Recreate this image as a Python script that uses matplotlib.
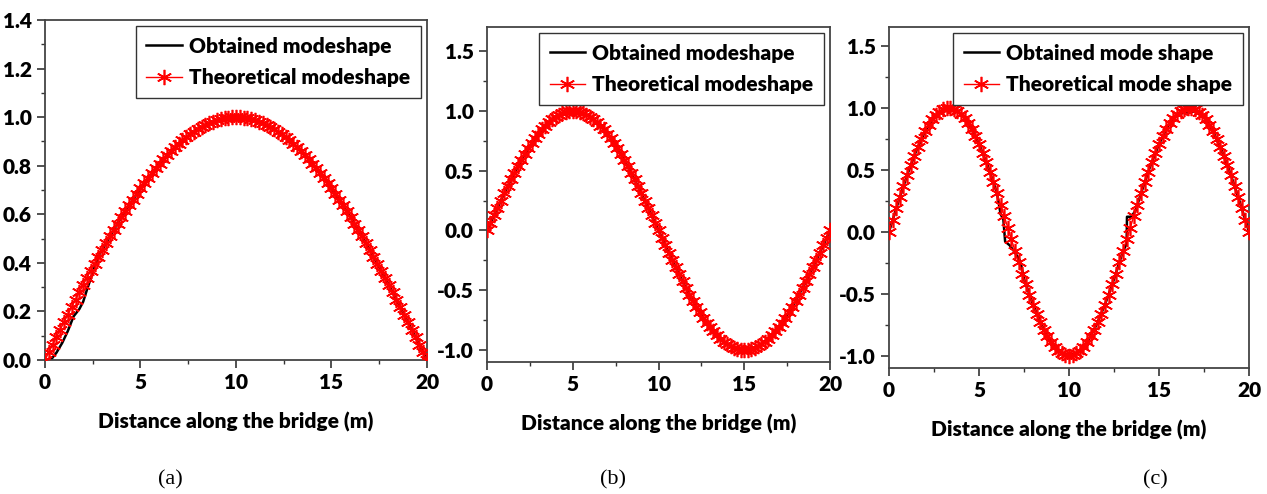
import matplotlib
matplotlib.use('Agg')
import matplotlib.pyplot as plt
from matplotlib.ticker import MultipleLocator, FormatStrFormatter

plt.rcParams['font.family'] = ['Lato', 'DejaVu Sans']
plt.rcParams['font.weight'] = 'bold'

# posicoes ao longo da ponte (m)
x_pts = [0.0, 0.2, 0.4, 0.6, 0.8, 1.0, 1.2, 1.4, 1.6, 1.8, 2.0, 2.2, 2.4, 2.6, 2.8, 3.0, 3.2, 3.4, 3.6, 3.8,
         4.0, 4.2, 4.4, 4.6, 4.8, 5.0, 5.2, 5.4, 5.6, 5.8, 6.0, 6.2, 6.4, 6.6, 6.8, 7.0, 7.2, 7.4, 7.6, 7.8,
         8.0, 8.2, 8.4, 8.6, 8.8, 9.0, 9.2, 9.4, 9.6, 9.8, 10.0, 10.2, 10.4, 10.6, 10.8, 11.0, 11.2, 11.4, 11.6, 11.8,
         12.0, 12.2, 12.4, 12.6, 12.8, 13.0, 13.2, 13.4, 13.6, 13.8, 14.0, 14.2, 14.4, 14.6, 14.8, 15.0, 15.2, 15.4, 15.6, 15.8,
         16.0, 16.2, 16.4, 16.6, 16.8, 17.0, 17.2, 17.4, 17.6, 17.8, 18.0, 18.2, 18.4, 18.6, 18.8, 19.0, 19.2, 19.4, 19.6, 19.8, 20.0]

theo_a = [0, .031, .063, .094, .125, .156, .187, .218, .249, .279, .309, .339, .368, .397, .426, .454, .482, .509, .536, .562,
          .588, .613, .637, .661, .685, .707, .729, .750, .771, .790, .809, .827, .844, .861, .876, .891, .905, .918, .930, .941,
          .951, .960, .969, .976, .982, .988, .992, .996, .998, .999, 1.000,
          .999, .998, .996, .992, .988, .982, .976, .969, .960, .951, .941, .930, .918, .905, .891, .876, .861, .844, .827, .809,
          .790, .771, .750, .729, .707, .685, .661, .637, .613, .588, .562, .536, .509, .482, .454, .426, .397, .368, .339, .309,
          .279, .249, .218, .187, .156, .125, .094, .063, .031, 0]

theo_b = [0, .063, .125, .187, .249, .309, .368, .426, .482, .536, .588, .637, .685, .729, .771, .809, .844, .876, .905, .930,
          .951, .969, .982, .992, .998, 1.000,
          .998, .992, .982, .969, .951, .930, .905, .876, .844, .809, .771, .729, .685, .637, .588, .536, .482, .426, .368, .309,
          .249, .187, .125, .063, 0,
          -.063, -.125, -.187, -.249, -.309, -.368, -.426, -.482, -.536, -.588, -.637, -.685, -.729, -.771, -.809, -.844, -.876,
          -.905, -.930, -.951, -.969, -.982, -.992, -.998, -1.000,
          -.998, -.992, -.982, -.969, -.951, -.930, -.905, -.876, -.844, -.809, -.771, -.729, -.685, -.637, -.588, -.536, -.482,
          -.426, -.368, -.309, -.249, -.187, -.125, -.063, 0]

theo_c = [0, .094, .187, .279, .368, .454, .536, .613, .685, .750, .809, .861, .905, .941, .969, .988, .998, .999, .992, .976,
          .951, .918, .876, .827, .771, .707, .637, .562, .482, .397, .309, .218, .125, .031, -.063, -.156, -.249, -.339, -.426,
          -.509, -.588, -.661, -.729, -.790, -.844, -.891, -.930, -.960, -.982, -.996, -1.000,
          -.996, -.982, -.960, -.930, -.891, -.844, -.790, -.729, -.661, -.588, -.509, -.426, -.339, -.249, -.156, -.063, .031,
          .125, .218, .309, .397, .482, .562, .637, .707, .771, .827, .876, .918, .951, .976, .992, .999, .998, .988, .969, .941,
          .905, .861, .809, .750, .685, .613, .536, .454, .368, .279, .187, .094, 0]

# modos obtidos (linha preta)
obt_a_x = [0, 0.3, 0.6, 0.9, 1.2, 1.5, 1.8, 2.0, 2.2, 2.5, 2.8, 3.0, 3.5, 4.0, 4.5, 5.0, 5.5, 6.0, 6.5, 7.0, 7.5, 8.0, 8.5,
           9.0, 9.5, 10.0, 10.5, 11.0, 11.5, 12.0, 12.5, 13.0, 13.5, 14.0, 14.5, 15.0, 15.5, 16.0, 16.5, 17.0, 17.5,
           18.0, 18.5, 19.0, 19.5, 20.0]
obt_a_y = [0, 0.0, 0.03, 0.07, 0.12, 0.18, 0.21, 0.24, 0.29, 0.36, 0.43, 0.454, 0.523, 0.588, 0.649, 0.707, 0.760, 0.809,
           0.853, 0.891, 0.924, 0.951, 0.972, 0.988, 0.997, 1.000, 0.997, 0.988, 0.972, 0.951, 0.924, 0.891, 0.853, 0.809,
           0.760, 0.707, 0.649, 0.588, 0.523, 0.454, 0.383, 0.309, 0.233, 0.156, 0.078, 0]

obt_b_x = [0, 0.5, 1.0, 1.5, 2.0, 2.5, 3.0, 3.5, 4.0, 4.5, 5.0, 5.5, 6.0, 6.5, 7.0, 7.5, 8.0, 8.5, 9.0, 9.5, 10.0,
           10.5, 11.0, 11.5, 12.0, 12.5, 13.0, 13.5, 14.0, 14.5, 15.0, 15.5, 16.0, 16.5, 17.0, 17.5, 18.0, 18.5, 19.0, 19.5, 20.0]
obt_b_y = [0, .156, .309, .454, .588, .707, .809, .891, .951, .988, 1.0, .988, .951, .891, .809, .707, .588, .454, .309, .156,
           0, -.156, -.309, -.454, -.588, -.707, -.809, -.891, -.951, -.988, -1.0, -.988, -.951, -.891, -.809, -.707, -.588,
           -.454, -.309, -.156, 0]

obt_c_x = [0, 0.5, 1.0, 1.5, 2.0, 2.5, 3.0, 3.5, 4.0, 4.5, 5.0, 5.5, 6.0, 6.2, 6.35, 6.45, 6.7, 7.0, 7.3, 7.5, 8.0, 8.5,
           9.0, 9.5, 10.0, 10.5, 11.0, 11.5, 12.0, 12.5, 13.0, 13.2, 13.22, 13.45, 13.7, 14.0, 14.5, 15.0, 15.5, 16.0,
           16.5, 17.0, 17.5, 18.0, 18.5, 19.0, 19.5, 20.0]
obt_c_y = [0, .233, .454, .649, .809, .924, .988, .997, .951, .853, .707, .523, .31, .14, .10, -.08, -.11, -.17, -.24,
           -.383, -.588, -.760, -.891, -.972, -1.0, -.972, -.891, -.760, -.588, -.383, -.156, -.10, .12, .12, .17, .309,
           .523, .707, .853, .951, .96, .97, .924, .809, .649, .454, .233, 0]

painels = [
    ([0.0355, 0.2713, 0.3015, 0.688], obt_a_x, obt_a_y, theo_a, (0, 1.4), 0.2, 0.1,
     ['Obtained modeshape', 'Theoretical modeshape'], '(a)', 170),
    ([0.3844, 0.2672, 0.2707, 0.678], obt_b_x, obt_b_y, theo_b, (-1.1, 1.7), 0.5, 0.25,
     ['Obtained modeshape', 'Theoretical modeshape'], '(b)', 613),
    ([0.7017, 0.2551, 0.2841, 0.690], obt_c_x, obt_c_y, theo_c, (-1.1, 1.65), 0.5, 0.25,
     ['Obtained mode shape', 'Theoretical mode shape'], '(c)', 1155),
]

fig = plt.figure(figsize=(12.67, 4.94), dpi=100)
asterisco = (6, 2, 0)

for rect, ox, oy, ty, ylim, major, minor, nomes, letra, xc in painels:
    ax = fig.add_axes(rect)
    ax.plot(ox, oy, color='black', lw=1.8, label=nomes[0], zorder=2)
    ax.plot(x_pts, ty, color='red', lw=1.0, marker=asterisco, markersize=11, markeredgewidth=1.2,
            label=nomes[1], zorder=3)
    ax.set_xlim(0, 20)
    ax.set_ylim(*ylim)
    ax.xaxis.set_major_locator(MultipleLocator(5))
    ax.xaxis.set_minor_locator(MultipleLocator(2.5))
    ax.yaxis.set_major_locator(MultipleLocator(major))
    ax.yaxis.set_minor_locator(MultipleLocator(minor))
    ax.yaxis.set_major_formatter(FormatStrFormatter('%.1f'))
    ax.tick_params(which='major', direction='out', length=6, width=1.2, labelsize=15, colors='#333333',
                   labelcolor='black')
    ax.tick_params(which='minor', direction='out', length=3, width=1.0, colors='#333333')
    for lab in ax.get_xticklabels() + ax.get_yticklabels():
        lab.set_fontweight('heavy')
    for sp in ax.spines.values():
        sp.set_color('#444444')
        sp.set_linewidth(1.3)
    ax.set_xlabel('Distance along the bridge (m)', fontsize=15, fontweight='heavy', labelpad=14)
    leg = ax.legend(loc='upper right', fontsize=15, frameon=True, fancybox=False, framealpha=1,
                    edgecolor='#333333', handlelength=1.7, handletextpad=0.35, borderaxespad=0.3,
                    borderpad=0.5, labelspacing=0.6)
    leg.get_frame().set_linewidth(1.0)
    for t in leg.get_texts():
        t.set_fontweight('heavy')
    fig.text(xc / 1267, 1 - 480 / 494, letra, ha='center', va='center', fontsize=16,
             family='Liberation Serif', fontweight='normal')

fig.savefig('out.png', dpi=100)
